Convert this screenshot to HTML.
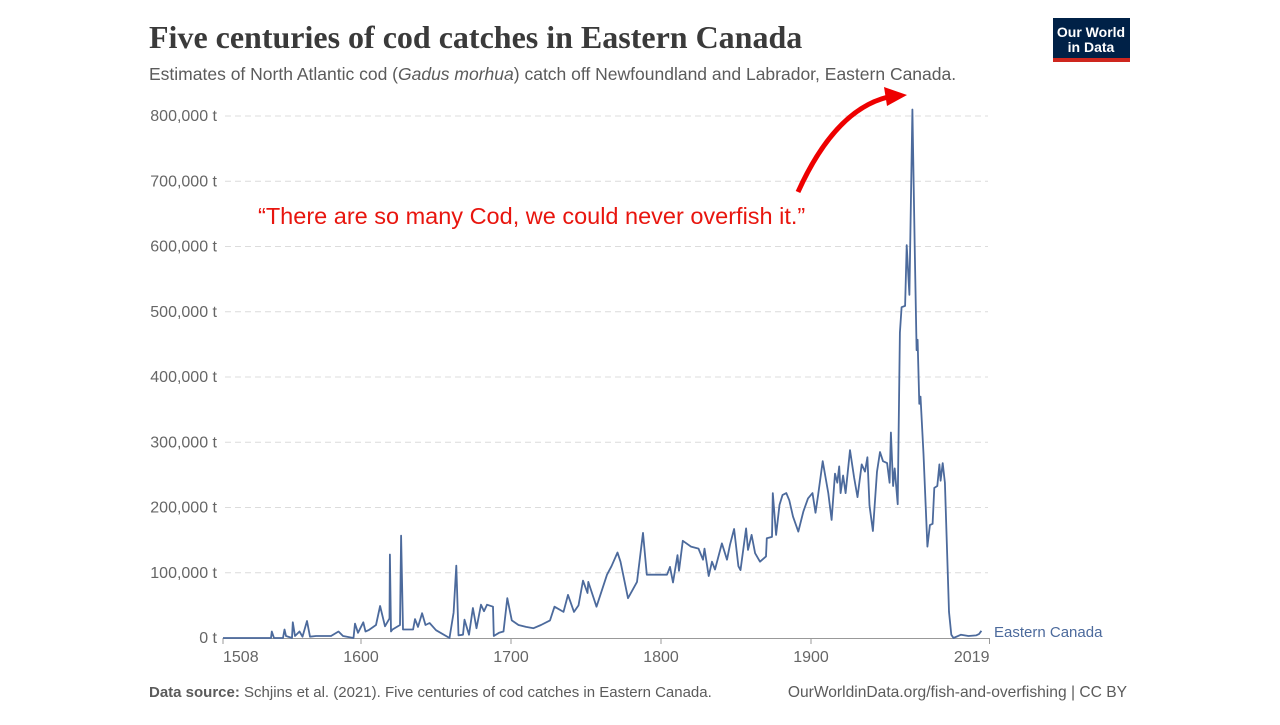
<!DOCTYPE html>
<html><head><meta charset="utf-8"><style>
body{margin:0;background:#fff;width:1280px;height:720px;overflow:hidden;font-family:"Liberation Sans",sans-serif}
</style></head><body>
<svg width="1280" height="720">
<text x="149" y="48" font-family="Liberation Serif,serif" font-size="32" font-weight="bold" fill="#3a3a3a">Five centuries of cod catches in Eastern Canada</text>
<text x="149" y="80" font-size="17.5" fill="#5b5b5b">Estimates of North Atlantic cod (<tspan font-style="italic">Gadus morhua</tspan>) catch off Newfoundland and Labrador, Eastern Canada.</text>
<g><rect x="1053" y="18" width="77" height="44" fill="#002147"/><rect x="1053" y="58" width="77" height="4" fill="#ce261e"/>
<text x="1091" y="37" font-size="14" fill="#fff" text-anchor="middle" font-weight="bold">Our World</text><text x="1091" y="52" font-size="14" fill="#fff" text-anchor="middle" font-weight="bold">in Data</text></g>
<g id="grid"></g><g id="yl"></g><g id="xl"></g>
<path id="line" fill="none" stroke="#4c6a9c" stroke-width="1.8" stroke-linejoin="round"/>
<text x="994" y="637" font-size="15" fill="#4c6a9c">Eastern Canada</text>
<text x="258" y="224" font-size="23.5" fill="#e8150e">“There are so many Cod, we could never overfish it.”</text>
<path d="M798,192 Q835,110 888,97" fill="none" stroke="#ee0000" stroke-width="5"/>
<polygon points="884,87 907,95 887,106" fill="#ee0000"/>
<text x="149" y="697" font-size="15" fill="#5b5b5b"><tspan font-weight="bold">Data source:</tspan> Schjins et al. (2021). Five centuries of cod catches in Eastern Canada.</text>
<text x="1127" y="697" font-size="15.6" fill="#5b5b5b" text-anchor="end">OurWorldinData.org/fish-and-overfishing | CC BY</text>
</svg>
<script>
const years=[1508,1540,1540.5,1542,1548,1549,1550,1554,1554.5,1556,1559,1561,1564,1566,1570,1580,1585,1588,1595,1596,1598,1601.5,1603,1605,1610,1612.7,1616,1619,1619.3,1620,1621,1626,1626.7,1628,1634.7,1636,1638,1640.7,1643,1645.7,1650,1659,1661.7,1663.5,1665,1668,1669,1672,1674.6,1677,1680,1682,1684,1688,1688.5,1692,1695,1697.5,1700.5,1705,1710,1715,1720,1726,1729,1735,1738,1742,1745,1748,1751,1751.5,1757,1764,1767,1771,1773,1778,1784,1788,1790.5,1804,1806,1808,1811,1812,1814.5,1820,1825,1828,1829,1831.8,1834,1836,1840.6,1844,1846,1848.7,1851.6,1853,1856.7,1858,1860.4,1862.7,1866,1870,1870.5,1874,1874.5,1876.7,1879,1881,1883.5,1885.5,1888,1891.5,1894.9,1898,1901,1903,1904.7,1907.8,1911.5,1913.7,1916,1917.5,1918.8,1919.7,1921.4,1923.1,1926,1928.7,1931,1933.8,1936,1937.6,1939,1941.3,1944,1946,1948,1950.7,1952.4,1953.3,1954.7,1955.8,1957.8,1959.3,1960.4,1962.7,1963.8,1965.6,1967.6,1969.3,1970.4,1971.1,1972.2,1973,1975,1977.6,1979.3,1981.1,1982.2,1984.2,1985.6,1986.4,1987.8,1989.3,1990.4,1992,1993.5,1995,2000,2005,2010,2012,2013.6];
const catches=[0,0,10,0,0,13,3,0,24,3,10,2,26,2,3,3,10,3,0,22,8,24,10,12,20,49,18,30,128,10,13,20,157,13,13,29,17,38,20,23,12,0,39,111,4,5,28,5,46,15,51,41,51,48,3,8,10,61,27,20,17,15,20,27,48,40,66,40,50,88,69,86,48,97,110,131,117,61,86,161,97,97,109,85,127,103,149,140,137,120,137,95,117,105,145,120,143,167,110,104,168,135,158,130,117,125,153,155,222,158,204,219,222,211,186,163,194,214,222,192,219,271,222,181,252,238,263,222,249,222,288,246,216,266,255,277,203,164,255,285,271,268,238,315,233,260,205,468,507,509,602,526,810,583,441,457,359,370,282,140,173,175,230,233,266,241,268,238,156,40,5,0,5,3,4,6,11];
const yTicks=[0,100000,200000,300000,400000,500000,600000,700000,800000];
const yTickLabels=["0 t","100,000 t","200,000 t","300,000 t","400,000 t","500,000 t","600,000 t","700,000 t","800,000 t"];
const xTicks=[1508,1600,1700,1800,1900,2019];
const xTickLabels=["1508","1600","1700","1800","1900","2019"];
const NS="http://www.w3.org/2000/svg";
function xs(y){return 361+(y-1600)*1.5;}
function ys(v){return 638-v*0.0006525;}
const grid=document.getElementById('grid'),yl=document.getElementById('yl'),xl=document.getElementById('xl');
yTicks.forEach((t,i)=>{
 if(t>0){const l=document.createElementNS(NS,'line');
 l.setAttribute('x1',225);l.setAttribute('x2',988);l.setAttribute('y1',ys(t));l.setAttribute('y2',ys(t));
 l.setAttribute('stroke','#dcdcdc');l.setAttribute('stroke-dasharray','6,4');
 
 
 grid.appendChild(l);}
 const tx=document.createElementNS(NS,'text');
 tx.setAttribute('x',217);tx.setAttribute('y',ys(t)+5);tx.setAttribute('text-anchor','end');
 tx.setAttribute('font-size','16');tx.setAttribute('fill','#666');tx.textContent=yTickLabels[i];
 
 
 yl.appendChild(tx);
});
const ax=document.createElementNS(NS,'line');
ax.setAttribute('x1',223);ax.setAttribute('x2',989);ax.setAttribute('y1',638.5);ax.setAttribute('y2',638.5);ax.setAttribute('stroke','#999');


xl.appendChild(ax);
xTicks.forEach((t,i)=>{
 const x=xs(t);
 const tk=document.createElementNS(NS,'line');
 tk.setAttribute('x1',x);tk.setAttribute('x2',x);tk.setAttribute('y1',638);tk.setAttribute('y2',644);tk.setAttribute('stroke','#999');
 
 
 xl.appendChild(tk);
 const tx=document.createElementNS(NS,'text');
 let anchor='middle',px=x;
 if(i==0){anchor='start';} if(i==xTicks.length-1){anchor='end';}
 tx.setAttribute('x',px);tx.setAttribute('y',662);tx.setAttribute('text-anchor',anchor);
 tx.setAttribute('font-size','16');tx.setAttribute('fill','#666');tx.textContent=xTickLabels[i];
 
 
 xl.appendChild(tx);
});
document.getElementById('line').setAttribute('d',years.map((y,i)=>(i?'L':'M')+xs(y).toFixed(1)+','+ys(catches[i]*1000).toFixed(1)).join(''));
</script>
</body></html>
